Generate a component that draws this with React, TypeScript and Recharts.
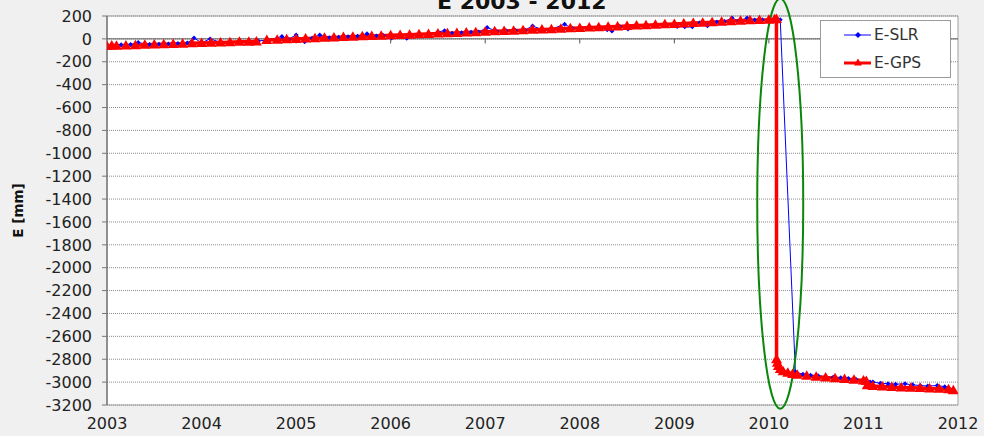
import React from "react";
import { LineChart, Line, XAxis, YAxis, CartesianGrid, ReferenceLine, ReferenceArea, ReferenceDot, Legend } from "recharts";

// GPS east component, mm (gap in mid-2004 left as null)
const gpsTime = [
  2003.0, 2003.05, 2003.1, 2003.2, 2003.3, 2003.4, 2003.5, 2003.6, 2003.7, 2003.8, 2003.9,
  2004.0, 2004.1, 2004.2, 2004.3, 2004.4, 2004.5, 2004.58, 2004.63, 2004.69, 2004.8, 2004.9,
  2005.0, 2005.1, 2005.2, 2005.3, 2005.4, 2005.5, 2005.6, 2005.7, 2005.8, 2005.9,
  2006.0, 2006.1, 2006.2, 2006.3, 2006.4, 2006.5, 2006.6, 2006.7, 2006.8, 2006.9,
  2007.0, 2007.1, 2007.2, 2007.3, 2007.4, 2007.5, 2007.6, 2007.7, 2007.8, 2007.9,
  2008.0, 2008.1, 2008.2, 2008.3, 2008.4, 2008.5, 2008.6, 2008.7, 2008.8, 2008.9,
  2009.0, 2009.1, 2009.2, 2009.3, 2009.4, 2009.5, 2009.6, 2009.7, 2009.8, 2009.9,
  2010.0, 2010.06, 2010.08, 2010.081, 2010.09, 2010.1, 2010.12, 2010.15, 2010.2, 2010.25, 2010.3,
  2010.4, 2010.5, 2010.6, 2010.7, 2010.8, 2010.9, 2011.0, 2011.03, 2011.04, 2011.1,
  2011.2, 2011.3, 2011.4, 2011.5, 2011.6, 2011.7, 2011.8, 2011.9, 2011.95,
];
const gpsEast: (number | null)[] = [
  -62, -58, -60, -57, -55, -52, -50, -47, -44, -42, -39,
  -36, -34, -31, -29, -26, -24, -22, null, -10, -7, -4,
  -1, 3, 6, 10, 13, 16, 19, 22, 25, 28,
  31, 34, 37, 40, 43, 46, 49, 52, 56, 59,
  62, 66, 69, 72, 75, 79, 82, 85, 89, 92,
  95, 99, 102, 106, 109, 113, 116, 120, 124, 127,
  131, 135, 138, 142, 146, 150, 154, 158, 162, 165,
  168, 171, 173, -2800, -2830, -2860, -2885, -2905, -2918, -2928, -2935,
  -2945, -2953, -2960, -2967, -2973, -2979, -2985, -2990, -3028, -3033,
  -3038, -3042, -3046, -3049, -3052, -3055, -3058, -3063, -3070,
];

// SLR east component, mm
const slrTime = [
  2003.05, 2003.15, 2003.25, 2003.33, 2003.45, 2003.55, 2003.65, 2003.75, 2003.85, 2003.92,
  2004.0, 2004.09, 2004.2, 2004.3, 2004.4, 2004.5, 2004.6, 2004.7, 2004.85, 2004.92,
  2005.0, 2005.09, 2005.17, 2005.25, 2005.35, 2005.45, 2005.55, 2005.65, 2005.75, 2005.85, 2005.92,
  2006.01, 2006.1, 2006.17, 2006.3, 2006.4, 2006.5, 2006.57, 2006.65, 2006.75, 2006.85, 2006.93,
  2007.02, 2007.12, 2007.22, 2007.32, 2007.42, 2007.5, 2007.6, 2007.7, 2007.84, 2007.92,
  2008.0, 2008.1, 2008.2, 2008.29, 2008.34, 2008.42, 2008.51, 2008.6, 2008.7, 2008.8, 2008.9,
  2009.03, 2009.11, 2009.19, 2009.27, 2009.35, 2009.45, 2009.53, 2009.61, 2009.68, 2009.77, 2009.85, 2009.93,
  2010.0, 2010.06, 2010.12, 2010.28, 2010.36, 2010.44, 2010.52, 2010.6, 2010.68, 2010.76, 2010.84, 2010.92,
  2011.02, 2011.07, 2011.1, 2011.18, 2011.26, 2011.34, 2011.44, 2011.52, 2011.6, 2011.68, 2011.78, 2011.86, 2011.95,
];
const slrEast = [
  -55, -52, -50, -32, -50, -46, -44, -40, -36, 8,
  -34, 0, -30, -27, -24, -22, -18, -10, 20, -3,
  35, -26, 5, 35, 10, 14, 18, 22, 45, 26, 29,
  8, 34, 5, 40, 43, 60, 72, 50, 54, 57, 60,
  100, 66, 70, 73, 76, 113, 82, 85, 128, 92,
  96, 98, 100, 80, 68, 108, 87, 116, 121, 124, 128,
  108, 105, 105, 140, 115, 148, 152, 183, 157, 183, 164, 167,
  169, 172, 168, -2910, -2932, -2940, -2945, -2952, -2958, -2962, -2968, -2975,
  -2982, -2998, -3000, -3010, -3014, -3018, -3015, -3024, -3030, -3034, -3030, -3040, -3065,
];

const yearTicks = [2003, 2004, 2005, 2006, 2007, 2008, 2009, 2010, 2011, 2012];
const mmTicks = [
  200, 0, -200, -400, -600, -800, -1000, -1200, -1400, -1600, -1800,
  -2000, -2200, -2400, -2600, -2800, -3000, -3200,
];

const gpsRows = gpsTime.map((t, i) => ({ t, e: gpsEast[i] }));
const slrRows = slrTime.map((t, i) => ({ t, e: slrEast[i] }));

const font = "'DejaVu Sans', sans-serif";

function Diamond(props: any) {
  const { cx, cy, index } = props;
  if (cx == null || cy == null) return <g key={`d-${index}`} />;
  return (
    <path
      key={`d-${index}`}
      d={`M${cx},${cy - 2.5}L${cx + 2.5},${cy}L${cx},${cy + 2.5}L${cx - 2.5},${cy}Z`}
      fill="#0000ff"
    />
  );
}

function Triangle(props: any) {
  const { cx, cy, index } = props;
  if (cx == null || cy == null) return <g key={`t-${index}`} />;
  return (
    <path
      key={`t-${index}`}
      d={`M${cx},${cy - 5.5}L${cx + 5.5},${cy + 4}L${cx - 5.5},${cy + 4}Z`}
      fill="#ff0000"
    />
  );
}

function LegendBox() {
  return (
    <svg width={132} height={59} style={{ display: "block" }}>
      <rect x={0.5} y={0.5} width={130} height={57} fill="#fff" stroke="#9a9a9a" />
      <line x1={24} x2={51} y1={15} y2={15} stroke="#0000ff" strokeWidth={1} />
      <path d="M38,12L41,15L38,18L35,15Z" fill="#0000ff" />
      <text x={54} y={20} fontFamily={font} fontSize={15.5} fill="#333">E-SLR</text>
      <line x1={24} x2={51} y1={43} y2={43} stroke="#ff0000" strokeWidth={3} />
      <path d="M38,38.5L42,45.5L34,45.5Z" fill="#ff0000" />
      <text x={54} y={48} fontFamily={font} fontSize={15.5} fill="#333">E-GPS</text>
    </svg>
  );
}

function Ellipse(props: any) {
  const { cx, cy } = props;
  return <ellipse cx={cx} cy={cy} rx={23} ry={205} fill="none" stroke="#0a870a" strokeWidth={2} />;
}

export default function App() {
  return (
    <div style={{ position: "fixed", left: 0, top: 0, width: 984, height: 436, background: "#f0f0f0", overflow: "hidden" }}>
      <LineChart width={984} height={436} data={gpsRows} margin={{ top: 16, right: 26, bottom: 0, left: 0 }}>
        <CartesianGrid vertical={false} fill="#fff" stroke="#8c8c8c" strokeDasharray="1 1" />
        <XAxis
          dataKey="t"
          type="number"
          domain={[2003, 2012]}
          ticks={yearTicks}
          interval={0}
          allowDataOverflow
          height={31}
          tickSize={0}
          tickMargin={13}
          axisLine={false}
          tick={{ fontFamily: font, fontSize: 16, fill: "#222" }}
        />
        <YAxis
          type="number"
          domain={[-3200, 200]}
          ticks={mmTicks}
          interval={0}
          width={107}
          tickSize={5}
          tickMargin={10}
          axisLine={{ stroke: "#555" }}
          tickLine={{ stroke: "#777" }}
          tick={{ fontFamily: font, fontSize: 16, fill: "#222" }}
          label={{
            value: "E [mm]",
            angle: -90,
            position: "insideLeft",
            offset: 18,
            style: { fontFamily: font, fontSize: 13.5, fontWeight: "bold", fill: "#111", textAnchor: "middle" },
          }}
        />
        <ReferenceArea x1={2003} x2={2012} y1={-3200} y2={200} fill="none" stroke="#a0a0a0" />
        <ReferenceLine y={0} stroke="#555" />
        {yearTicks.slice(1, -1).map((yr) => (
          <ReferenceLine
            key={yr}
            segment={[
              { x: yr, y: 0 },
              { x: yr, y: -40 },
            ]}
            stroke="#555"
          />
        ))}
        <Line
          name="E-SLR"
          data={slrRows}
          dataKey="e"
          stroke="#0000ff"
          strokeWidth={1}
          dot={Diamond}
          activeDot={false}
          isAnimationActive={false}
        />
        <Line
          name="E-GPS"
          data={gpsRows}
          dataKey="e"
          stroke="#ff0000"
          strokeWidth={3.5}
          dot={Triangle}
          activeDot={false}
          connectNulls={false}
          isAnimationActive={false}
        />
        <ReferenceDot x={2010.12} y={-1440} shape={Ellipse} ifOverflow="visible" />
        <Legend
          layout="horizontal"
          verticalAlign="middle"
          align="center"
          wrapperStyle={{ left: 820, top: 20, width: 132, height: 59 }}
          content={() => <LegendBox />}
        />
        <text x={437} y={9} fontFamily={font} fontSize={22} fontWeight="bold" fill="#111">
          E 2003 - 2012
        </text>
      </LineChart>
    </div>
  );
}
